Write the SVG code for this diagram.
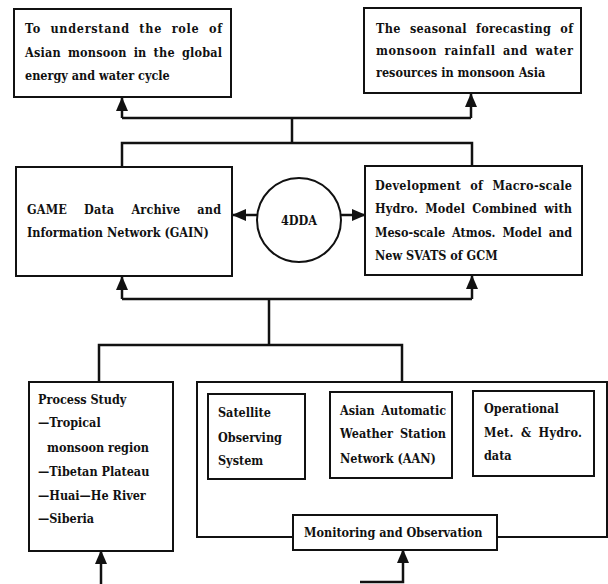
<svg xmlns="http://www.w3.org/2000/svg" width="608" height="584" viewBox="0 0 608 584">
<style>
.box{fill:#fff;stroke:#111;stroke-width:2}
.con{fill:none;stroke:#111;stroke-width:2.5}
text{font-family:"DejaVu Serif Condensed","DejaVu Serif","Liberation Serif",serif;font-stretch:condensed;font-size:12.5px;font-weight:bold;fill:#111}
.j{word-spacing:3px}
.w{word-spacing:5px}
.ww{word-spacing:13px}
.m{text-anchor:middle}
</style>
<defs>
<marker id="ah" markerUnits="userSpaceOnUse" markerWidth="14" markerHeight="14" viewBox="0 0 14 14" refX="13" refY="7" orient="auto">
<path d="M0,1 L14,7 L0,13 Z" fill="#111"/>
</marker>
</defs>
<rect width="608" height="584" fill="#fff"/>
<g id="connectors">
<path class="con" d="M122,118 H471"/>
<path class="con" d="M122,118 V98" marker-end="url(#ah)"/>
<path class="con" d="M471,118 V94" marker-end="url(#ah)"/>
<path class="con" d="M292,118 V143"/>
<path class="con" d="M122,167 V143 H472 V166"/>
<path class="con" d="M257,215 H233" marker-end="url(#ah)"/>
<path class="con" d="M341,215 H365" marker-end="url(#ah)"/>
<path class="con" d="M122,299 H472"/>
<path class="con" d="M122,299 V277" marker-end="url(#ah)"/>
<path class="con" d="M472,299 V276" marker-end="url(#ah)"/>
<path class="con" d="M269,299 V345"/>
<path class="con" d="M99,382 V345 H402 V381"/>
<path class="con" d="M101,584 V551" marker-end="url(#ah)"/>
<path class="con" d="M360,582 H403 V550" marker-end="url(#ah)"/>
</g>
<g id="goal1">
<rect class="box" x="14" y="9" width="217" height="88"/>
<text class="w" x="25" y="33" textLength="197" lengthAdjust="spacing">To understand the role of</text>
<text class="j" x="25" y="57" textLength="197" lengthAdjust="spacing">Asian monsoon in the global</text>
<text x="25" y="80">energy and water cycle</text>
</g>
<g id="goal2">
<rect class="box" x="364" y="8" width="217" height="85"/>
<text class="w" x="376" y="33" textLength="197" lengthAdjust="spacing">The seasonal forecasting of</text>
<text class="j" x="376" y="55" textLength="197" lengthAdjust="spacing">monsoon rainfall and water</text>
<text x="376" y="77">resources in monsoon Asia</text>
</g>
<g id="gain">
<rect class="box" x="16" y="167" width="216" height="109"/>
<text class="ww" x="27" y="214" textLength="194" lengthAdjust="spacing">GAME Data Archive and</text>
<text x="27" y="237">Information Network (GAIN)</text>
</g>
<g id="dda">
<circle class="box" cx="299" cy="220" r="42"/>
<text x="299" y="225" class="m">4DDA</text>
</g>
<g id="model">
<rect class="box" x="365" y="166" width="217" height="109"/>
<text class="w" x="375" y="190" textLength="197" lengthAdjust="spacing">Development of Macro-scale</text>
<text class="j" x="375" y="213" textLength="197" lengthAdjust="spacing">Hydro. Model Combined with</text>
<text class="j" x="375" y="237" textLength="197" lengthAdjust="spacing">Meso-scale Atmos. Model and</text>
<text x="375" y="260">New SVATS of GCM</text>
</g>
<g id="process">
<rect class="box" x="29" y="382" width="144" height="169"/>
<text x="38" y="404">Process Study</text>
<text x="38" y="427">—Tropical</text>
<text x="47" y="452">monsoon region</text>
<text x="38" y="476">—Tibetan Plateau</text>
<text x="38" y="500">—Huai—He River</text>
<text x="38" y="523">—Siberia</text>
</g>
<g id="monitoring">
<rect class="box" x="197" y="382" width="410" height="155"/>
</g>
<g id="satellite">
<rect class="box" x="208" y="394" width="97" height="85"/>
<text x="218" y="417">Satellite</text>
<text x="218" y="442">Observing</text>
<text x="218" y="465">System</text>
</g>
<g id="aan">
<rect class="box" x="330" y="392" width="122" height="86"/>
<text class="j" x="340" y="415" textLength="106" lengthAdjust="spacing">Asian Automatic</text>
<text class="j" x="340" y="438" textLength="106" lengthAdjust="spacing">Weather Station</text>
<text x="340" y="463">Network (AAN)</text>
</g>
<g id="operational">
<rect class="box" x="473" y="391" width="121" height="85"/>
<text x="484" y="413">Operational</text>
<text class="j" x="484" y="437" textLength="98" lengthAdjust="spacing">Met. &amp; Hydro.</text>
<text x="484" y="460">data</text>
</g>
<g id="monitoring-label">
<rect class="box" x="293" y="515" width="204" height="35"/>
<text x="304" y="537">Monitoring and Observation</text>
</g>
</svg>
